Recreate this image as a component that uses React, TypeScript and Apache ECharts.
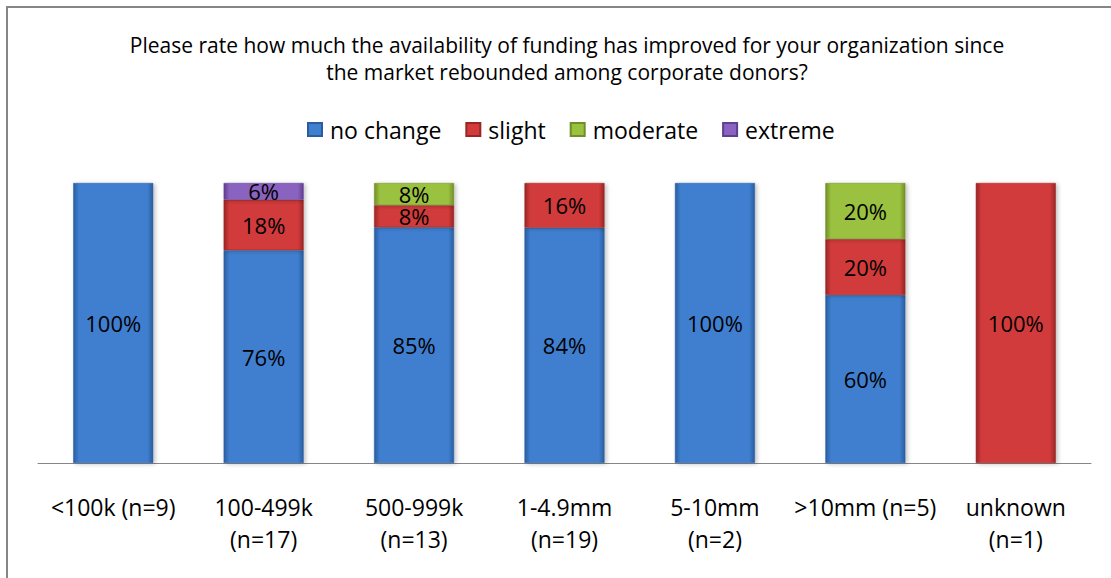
import React, { useEffect, useRef } from "react";
import * as echarts from "echarts";

const categories = [
  "<100k (n=9)",
  "100-499k\n(n=17)",
  "500-999k\n(n=13)",
  "1-4.9mm\n(n=19)",
  "5-10mm\n(n=2)",
  ">10mm (n=5)",
  "unknown\n(n=1)",
];
const noChange = [100, 76, 85, 84, 100, 60, 0];
const slight = [0, 18, 8, 16, 0, 20, 100];
const moderate = [0, 0, 8, 0, 0, 20, 0];
const extreme = [0, 6, 0, 0, 0, 0, 0];

const seriesNames = ["no change", "slight", "moderate", "extreme"];
const seriesValues = [noChange, slight, moderate, extreme];
const colors = [
  { base: "#3f7fd0", light: "#6aa6ec", dark: "#2a5d9f" },
  { base: "#d23b3b", light: "#ef7070", dark: "#9a2525" },
  { base: "#9bc13f", light: "#c4e272", dark: "#718f28" },
  { base: "#8a62c0", light: "#b393e4", dark: "#5f3f8f" },
];

const FONT = "Open Sans";

export default function App() {
  const ref = useRef<HTMLDivElement>(null);
  useEffect(() => {
    if (!ref.current) return;
    const chart = echarts.init(ref.current, null, { renderer: "svg" });
    const totals = categories.map((_, i) =>
      seriesValues.reduce((s, arr) => s + arr[i], 0)
    );
    const series = seriesValues.map((vals, si) => ({
      name: seriesNames[si],
      type: "bar",
      stack: "total",
      barWidth: 80,
      data: vals.map((v, i) => ({
        value: (v / totals[i]) * 100,
        raw: v,
        label: { show: v > 0 },
      })),
      itemStyle: {
        color: new echarts.graphic.LinearGradient(0, 0, 1, 0, [
          { offset: 0, color: colors[si].dark },
          { offset: 0.07, color: colors[si].base },
          { offset: 0.93, color: colors[si].base },
          { offset: 1, color: colors[si].dark },
        ]),
        borderColor: colors[si].dark,
        borderWidth: 0.5,
        shadowColor: "rgba(0,0,0,0.25)",
        shadowBlur: 4,
        shadowOffsetX: 2,
        shadowOffsetY: 1,
      },
      label: {
        show: true,
        position: "inside",
        color: "#000",
        fontFamily: FONT,
        fontSize: 22,
        lineHeight: 16,
        formatter: (p: any) => `${p.data.raw}%`,
      },
    }));

    chart.setOption({
      animation: false,
      backgroundColor: "#fff",
      title: {
        text:
          "Please rate how much the availability of funding has improved for your organization since\nthe market rebounded among corporate donors?",
        left: 562,
        textAlign: "center",
        top: 26,
        textStyle: {
          fontFamily: FONT,
          fontSize: 21,
          fontWeight: "normal",
          color: "#000",
          lineHeight: 27,
        },
      },
      legend: {
        top: 113,
        left: 302,
        itemWidth: 14,
        itemHeight: 13,
        itemGap: 24,
        icon: "rect",
        textStyle: {
          fontFamily: FONT,
          fontSize: 23,
          color: "#000",
          padding: [0, 0, 0, 3],
        },
        data: seriesNames,
      },
      color: colors.map((c) => c.base),
      grid: { left: 38, right: 20, top: 183, bottom: 115, containLabel: false },
      xAxis: {
        type: "category",
        data: categories,
        axisLine: { lineStyle: { color: "#868686", width: 1 } },
        axisTick: { show: false },
        axisLabel: {
          fontFamily: FONT,
          fontSize: 23,
          color: "#000",
          margin: 28,
          lineHeight: 32,
          interval: 0,
          verticalAlign: "top",
        },
      },
      yAxis: { type: "value", min: 0, max: 100, show: false },
      graphic: [
        {
          type: "rect",
          shape: { x: 7, y: 7, width: 1200, height: 700 },
          style: { fill: "none", stroke: "#868686", lineWidth: 2 },
          silent: true,
        },
      ],
      series,
    });
    return () => chart.dispose();
  }, []);
  return (
    <div
      ref={ref}
      style={{ position: "fixed", left: 0, top: 0, width: 1111, height: 578 }}
    />
  );
}
